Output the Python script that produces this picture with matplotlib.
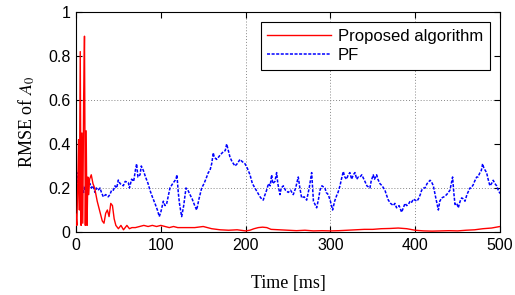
import matplotlib
matplotlib.use("Agg")
import matplotlib.pyplot as plt

# ---- data ----
prop_t = [0, 1, 2, 3, 4, 5, 6, 7, 8, 9, 10, 11, 12, 13, 14, 15, 16, 18, 20, 22, 25, 27,
          29, 31, 33, 35, 37, 39, 41, 43, 45, 47, 50, 53, 56, 60, 63, 66, 70, 75, 80, 85,
          90, 95, 100, 105, 110, 115, 120, 125, 130, 140, 150, 160, 170, 180, 190, 200,
          205, 210, 215, 220, 225, 230, 240, 250, 260, 270, 280, 290, 300, 310, 320, 330,
          340, 350, 360, 370, 380, 390, 400, 410, 420, 430, 440, 450, 460, 470, 480, 490, 500]
prop_v = [0.08, 0.03, 0.2, 0.42, 0.1, 0.82, 0.03, 0.45, 0.04, 0.6, 0.89, 0.03, 0.46, 0.03,
          0.25, 0.17, 0.24, 0.26, 0.22, 0.2, 0.14, 0.11, 0.08, 0.05, 0.04, 0.085, 0.1, 0.07,
          0.13, 0.12, 0.06, 0.03, 0.015, 0.03, 0.01, 0.03, 0.015, 0.02, 0.02, 0.025, 0.03,
          0.025, 0.03, 0.025, 0.03, 0.025, 0.02, 0.025, 0.02, 0.02, 0.02, 0.02, 0.025, 0.015,
          0.01, 0.008, 0.01, 0.005, 0.008, 0.015, 0.02, 0.022, 0.02, 0.012, 0.01, 0.008,
          0.006, 0.008, 0.005, 0.006, 0.005, 0.006, 0.008, 0.01, 0.012, 0.012, 0.015, 0.016,
          0.018, 0.015, 0.008, 0.005, 0.004, 0.005, 0.006, 0.005, 0.008, 0.01, 0.015, 0.018,
          0.025]

pf_t = [0, 1, 2, 3, 4, 5, 7, 9, 11, 12.6, 14, 16.5, 18, 20, 22.4, 24, 26, 28.3, 30, 32.2,
        35, 38, 40, 42, 44, 46, 48, 49.9, 52, 55.8, 58, 61.7, 63, 65.6, 68, 70, 71.5, 73,
        75.5, 77, 79.4, 82, 85, 87.2, 90, 93.1, 96, 98.2, 100, 103, 105, 107, 110.8, 114,
        117.9, 119, 120.6, 122, 124.6, 127, 129.7, 132, 134.4, 137, 140, 142.3, 145, 148.2,
        151, 154.1, 156, 158, 160, 161.9, 163, 165.8, 168, 170, 173.7, 176, 177.7, 179,
        181.6, 184, 187.5, 190, 193.4, 196, 199.3, 202, 205.2, 208, 211, 214, 217, 219,
        220.8, 222, 224.8, 227, 229, 230.7, 232, 234.6, 236.6, 238, 240.5, 242, 244.5, 247,
        250.3, 253, 256.2, 259, 262.1, 264, 266.1, 269, 272, 275, 277.9, 280, 283.8, 286,
        287.7, 290, 293.6, 295, 297.5, 300, 302.6, 305, 307.3, 309, 311.3, 313, 315.2, 317,
        319.1, 321, 323, 325, 327, 329, 331, 333, 335, 337, 340.7, 343, 346.6, 348, 350.5,
        352, 354.5, 356, 358.4, 361, 364.3, 366, 368.3, 371, 374.2, 376, 378, 381, 384, 386,
        388, 390, 391.9, 394, 395.8, 398, 399.7, 402, 403.7, 406, 407.6, 410, 411.6, 414,
        417.5, 419, 421.4, 424, 427.3, 429, 431.2, 434, 437.1, 439, 441, 444.1, 445.5, 446.9,
        449, 450.8, 453, 454.8, 457, 458.7, 461, 464.6, 466, 468.5, 470, 472.5, 474, 476.4,
        478, 479.5, 481, 484.2, 486, 488.1, 490, 492, 494, 496, 498, 500]
pf_v = [0.22, 0.27, 0.19, 0.25, 0.2, 0.19, 0.22, 0.18, 0.21, 0.13, 0.2, 0.22, 0.2, 0.21,
        0.18, 0.2, 0.19, 0.2, 0.18, 0.16, 0.17, 0.16, 0.17, 0.19, 0.19, 0.21, 0.2, 0.236,
        0.22, 0.21, 0.23, 0.225, 0.2, 0.24, 0.23, 0.28, 0.31, 0.25, 0.26, 0.3, 0.28, 0.25,
        0.22, 0.19, 0.16, 0.13, 0.1, 0.07, 0.09, 0.14, 0.12, 0.13, 0.2, 0.22, 0.24, 0.26,
        0.18, 0.13, 0.07, 0.12, 0.2, 0.19, 0.17, 0.15, 0.12, 0.1, 0.15, 0.2, 0.22, 0.25,
        0.27, 0.28, 0.31, 0.36, 0.34, 0.33, 0.34, 0.35, 0.365, 0.37, 0.4, 0.38, 0.34, 0.32,
        0.3, 0.31, 0.33, 0.32, 0.31, 0.29, 0.26, 0.22, 0.2, 0.18, 0.16, 0.15, 0.145, 0.16,
        0.19, 0.22, 0.21, 0.26, 0.22, 0.23, 0.27, 0.22, 0.17, 0.2, 0.21, 0.19, 0.18, 0.19,
        0.17, 0.2, 0.25, 0.2, 0.155, 0.16, 0.145, 0.2, 0.27, 0.14, 0.11, 0.15, 0.19, 0.21,
        0.2, 0.18, 0.17, 0.14, 0.1, 0.14, 0.165, 0.18, 0.21, 0.24, 0.275, 0.25, 0.24, 0.26,
        0.27, 0.24, 0.26, 0.27, 0.24, 0.25, 0.25, 0.26, 0.23, 0.21, 0.2, 0.23, 0.26, 0.24,
        0.26, 0.24, 0.22, 0.21, 0.19, 0.17, 0.145, 0.13, 0.12, 0.13, 0.11, 0.12, 0.09, 0.11,
        0.13, 0.12, 0.125, 0.14, 0.135, 0.15, 0.145, 0.14, 0.15, 0.17, 0.19, 0.2, 0.2, 0.22,
        0.235, 0.23, 0.21, 0.16, 0.1, 0.14, 0.155, 0.16, 0.17, 0.18, 0.19, 0.25, 0.18, 0.125,
        0.13, 0.11, 0.14, 0.155, 0.15, 0.14, 0.17, 0.2, 0.2, 0.215, 0.23, 0.25, 0.25, 0.27,
        0.28, 0.31, 0.29, 0.27, 0.24, 0.21, 0.22, 0.235, 0.22, 0.21, 0.19, 0.175]

x_ticks = [0, 100, 200, 300, 400, 500]
y_ticks = [0, 0.2, 0.4, 0.6, 0.8, 1]
y_tick_labels = ["0", "0.2", "0.4", "0.6", "0.8", "1"]
x_grid = [200, 300, 400]
y_grid = [0.2, 0.6]
labels = ["Proposed algorithm", "PF"]

plt.rcParams["mathtext.fontset"] = "stix"
sans = "Liberation Sans"
serif = "Liberation Serif"

fig = plt.figure(figsize=(5.15, 2.95), dpi=100)
ax = fig.add_axes([76 / 515, 1 - 232 / 295, 424 / 515, 220 / 295])

for gx in x_grid:
    ax.axvline(gx, color="#888888", lw=0.7, ls=(0, (1, 2)), zorder=0)
for gy in y_grid:
    ax.axhline(gy, color="#888888", lw=0.7, ls=(0, (1, 2)), zorder=0)

ax.plot(prop_t, prop_v, color="red", lw=1.0, label=labels[0], zorder=3)
ax.plot(pf_t, pf_v, color="blue", lw=1.1, ls=(0, (2, 1)), label=labels[1], zorder=2)

ax.set_xlim(0, 500)
ax.set_ylim(0, 1)
ax.set_xticks(x_ticks)
ax.set_yticks(y_ticks)
ax.set_yticklabels(y_tick_labels)
ax.tick_params(direction="in", top=True, right=True, length=4, width=0.8,
               labelsize=11.5, pad=4)
for lab in ax.get_xticklabels() + ax.get_yticklabels():
    lab.set_fontfamily(sans)
for s in ax.spines.values():
    s.set_linewidth(0.8)

ax.set_xlabel("Time [ms]", fontsize=13, fontfamily=serif, labelpad=16)
ax.set_ylabel(r"RMSE of $\mathit{A}_0$", fontsize=13, fontfamily=serif, labelpad=8)

leg = ax.legend(loc="upper right", bbox_to_anchor=(490 / 515, 1 - 22 / 295),
                bbox_transform=fig.transFigure, fancybox=False, framealpha=1,
                edgecolor="black", handlelength=3.8, handletextpad=0.45,
                borderpad=0.4, labelspacing=0.25, borderaxespad=0,
                prop={"family": sans, "size": 12})
leg.get_frame().set_linewidth(0.8)

fig.savefig("out.png", dpi=100)
